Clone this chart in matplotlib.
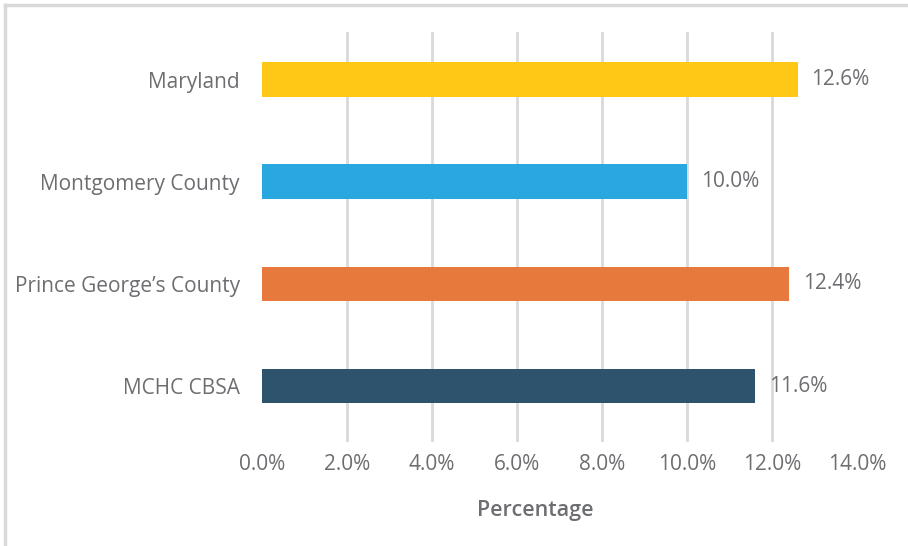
import matplotlib.pyplot as plt
from matplotlib.lines import Line2D

regions = ["Maryland", "Montgomery County", "Prince George\u2019s County", "MCHC CBSA"]
values = [12.6, 10.0, 12.4, 11.6]
colors = ["#FFC716", "#29A8E0", "#E8793D", "#2D546C"]
x_ticks = [0, 2, 4, 6, 8, 10, 12, 14]

text_gray = "#6D6E71"
grid_gray = "#D9D9D9"

plt.rcParams['font.family'] = ['Open Sans', 'DejaVu Sans']

fig = plt.figure(figsize=(9.08, 5.46), dpi=100)
ax = fig.add_axes([0.2885, 0.1905, 0.9439 - 0.2885, 0.9414 - 0.1905])

ypos = list(range(len(regions)))
ax.barh(ypos, values, height=0.34, color=colors, zorder=3)

for y, v in zip(ypos, values):
    ax.annotate(f"{v:.1f}%", xy=(v, y), xytext=(10, 0), textcoords="offset points",
                ha="left", va="center", fontsize=15, color=text_gray)

ax.set_xlim(0, 14)
ax.set_ylim(3.547, -0.465)
ax.set_xticks(x_ticks)
ax.set_xticklabels([f"{t:.1f}%" for t in x_ticks], fontsize=15, color=text_gray)
ax.set_yticks(ypos)
ax.set_yticklabels(regions, fontsize=15, color=text_gray)
ax.tick_params(axis="both", length=0)
ax.tick_params(axis="y", pad=16)
ax.tick_params(axis="x", pad=9)

# vertical gridlines only between the ends of the axis
ax.grid(axis="x", color=grid_gray, linewidth=2, zorder=0)
ax.grid(axis="y", visible=False)
xgrid = ax.xaxis.get_gridlines()
xgrid[0].set_visible(False)
xgrid[-1].set_visible(False)
for s in ax.spines.values():
    s.set_visible(False)

ax.set_xlabel("Percentage", fontsize=15.5, color=text_gray, fontweight="semibold")
ax.xaxis.set_label_coords((535 - 262) / 595, -(511 - 442) / 410, transform=ax.transAxes)
ax.xaxis.label.set_va("center")

# light frame along the top and left edges
fig.add_artist(Line2D([5 / 908, 1], [1 - 5 / 546, 1 - 5 / 546], color=grid_gray, linewidth=2.5))
fig.add_artist(Line2D([5 / 908, 5 / 908], [0, 1 - 5 / 546], color=grid_gray, linewidth=2.5))

fig.savefig("out.png", dpi=100, facecolor="white")
